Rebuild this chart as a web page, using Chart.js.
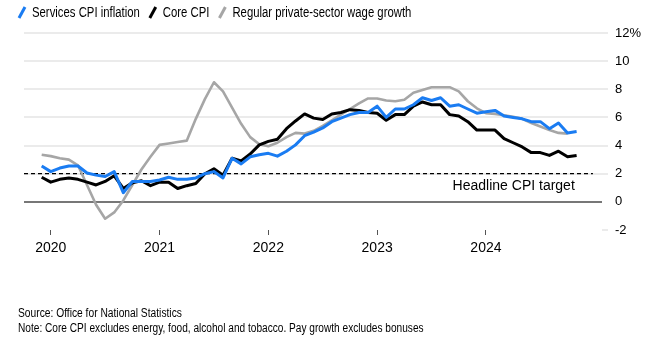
<!DOCTYPE html>
<html>
<head>
<meta charset="utf-8">
<script src="https://cdn.jsdelivr.net/npm/chart.js@4.4.1/dist/chart.umd.min.js"></script>
<style>
  html, body { margin: 0; padding: 0; background: #fff; }
</style>
</head>
<body>
<canvas id="myChart" width="669" height="348"></canvas>
<script>
// monthly readings, Nov 2019 .. Oct 2024 (pay growth stops at Sep 2024)
// x = months after Jan 2020, each month plotted at its month end
const firstMonth = -1;
const services = [
  2.55, 2.15,
  2.4, 2.55, 2.55, 2.05, 1.9, 1.8, 2.15, 0.65, 1.45, 1.45, 1.45, 1.55,
  1.75, 1.6, 1.6, 1.7, 2.0, 2.15, 1.7, 3.1, 2.7, 3.2, 3.35, 3.45,
  3.25, 3.6, 4.05, 4.7, 4.95, 5.25, 5.7, 5.95, 6.2, 6.35, 6.35, 6.8,
  6.0, 6.6, 6.6, 6.9, 7.4, 7.2, 7.4, 6.8, 6.9, 6.6, 6.3, 6.4,
  6.5, 6.1, 6.0, 5.9, 5.7, 5.7, 5.2, 5.6, 4.9, 5.0
];
const core = [
  1.75, 1.4,
  1.6, 1.7, 1.6, 1.4, 1.2, 1.45, 1.85, 0.95, 1.35, 1.5, 1.15, 1.4,
  1.4, 0.95, 1.15, 1.3, 2.0, 2.35, 1.9, 3.1, 2.9, 3.4, 4.05, 4.3,
  4.45, 5.2, 5.75, 6.25, 5.95, 5.85, 6.25, 6.35, 6.55, 6.5, 6.35, 6.3,
  5.8, 6.2, 6.2, 6.8, 7.1, 6.9, 6.9, 6.2, 6.1, 5.7, 5.1, 5.1,
  5.1, 4.5, 4.2, 3.9, 3.5, 3.5, 3.3, 3.6, 3.2, 3.3
];
const wages = [
  3.35, 3.25,
  3.1, 3.0, 2.6, 1.2, -0.2, -1.2, -0.75, 0.1, 1.2, 2.3, 3.2, 4.05,
  4.15, 4.25, 4.35, 5.9, 7.3, 8.5, 7.85, 6.7, 5.55, 4.6, 4.1, 3.95,
  4.2, 4.6, 4.9, 4.85, 5.05, 5.4, 5.8, 6.2, 6.6, 7.0, 7.35, 7.35,
  7.2, 7.15, 7.25, 7.75, 7.95, 8.15, 8.15, 8.15, 7.85, 7.15, 6.65, 6.3,
  6.25, 6.15, 6.05, 5.9, 5.6, 5.35, 5.1, 4.9, 4.85
];
const yearTicks = [0, 12, 24, 36, 48];
const yearLabels = ["2020", "2021", "2022", "2023", "2024"];
const targetRate = 2;
const targetSpan = [-2.95, 59.8];
const seriesNames = ["Services CPI inflation", "Core CPI", "Regular private-sector wage growth"];
const seriesColors = ["#1a7cf2", "#000000", "#a6a6a6"];
const notes = [
  "Source: Office for National Statistics",
  "Note: Core CPI excludes energy, food, alcohol and tobacco. Pay growth excludes bonuses"
];

const REGULAR = '"Liberation Sans", Arial, sans-serif';
const SQUEEZE = 0.82; // no narrow face installed, so squeeze the regular one

const toPoints = (arr) => arr.map((v, i) => ({ x: firstMonth + i, y: v }));

const line = (label, data, color, width) => ({
  label,
  data: toPoints(data),
  borderColor: color,
  borderWidth: width,
  pointRadius: 0,
  tension: 0,
  borderJoinStyle: "round",
  fill: false,
});

const narrowText = (ctx, text, x, y, squeeze = SQUEEZE) => {
  ctx.save();
  ctx.translate(x, y);
  ctx.scale(squeeze, 1);
  ctx.fillText(text, 0, 0);
  ctx.restore();
  return ctx.measureText(text).width * squeeze;
};

// legend, target caption and footnotes
const extras = {
  id: "extras",
  afterDraw(chart) {
    const ctx = chart.ctx;
    const { x, y } = chart.scales;
    ctx.save();
    ctx.textBaseline = "middle";
    ctx.fillStyle = "#000";
    ctx.font = `14px ${REGULAR}`;
    let lx = 18;
    seriesNames.forEach((name, i) => {
      ctx.strokeStyle = seriesColors[i];
      ctx.lineWidth = 3;
      ctx.beginPath();
      ctx.moveTo(lx + 1, 18);
      ctx.lineTo(lx + 7, 7);
      ctx.stroke();
      const w = narrowText(ctx, name, lx + 14, 13, 0.81);
      lx += 14 + w + 9;
    });

    ctx.font = `14px ${REGULAR}`;
    ctx.textAlign = "right";
    ctx.fillText("Headline CPI target", x.getPixelForValue(57.8), y.getPixelForValue(targetRate) + 12);

    ctx.textAlign = "left";
    ctx.font = `12.5px ${REGULAR}`;
    narrowText(ctx, notes[0], 18, 314);
    narrowText(ctx, notes[1], 18, 329, 0.81);
    ctx.restore();
  },
};

const ctx = document.getElementById("myChart").getContext("2d");
const myChart = new Chart(ctx, {
  type: "line",
  data: {
    datasets: [
      line(seriesNames[0], services, seriesColors[0], 3),
      line(seriesNames[1], core, seriesColors[1], 3),
      line(seriesNames[2], wages, seriesColors[2], 2.6),
      {
        label: "target",
        data: targetSpan.map((v) => ({ x: v, y: targetRate })),
        borderColor: "#000",
        borderWidth: 1.3,
        borderDash: [4, 3],
        pointRadius: 0,
      },
    ],
  },
  options: {
    responsive: false,
    animation: false,
    devicePixelRatio: 1,
    layout: { padding: { top: 33, left: 24, right: 0, bottom: 0 } },
    plugins: {
      legend: { display: false },
      tooltip: { enabled: false },
    },
    scales: {
      x: {
        type: "linear",
        min: -2.95,
        max: 60.8,
        afterBuildTicks: (s) => {
          s.ticks = yearTicks.map((v) => ({ value: v }));
        },
        afterFit: (s) => {
          s.height = 118;
        },
        ticks: {
          autoSkip: false,
          maxRotation: 0,
          padding: 5,
          color: "#000",
          font: { family: REGULAR, size: 14 },
          callback: (v, i) => yearLabels[i],
        },
        grid: { drawOnChartArea: false, drawTicks: true, tickLength: 5, tickColor: "#555", lineWidth: 1 },
        border: { display: false },
      },
      y: {
        position: "right",
        min: -2,
        max: 12,
        afterFit: (s) => {
          s.width = 67;
        },
        ticks: {
          stepSize: 2,
          padding: 7,
          color: "#000",
          font: { family: REGULAR, size: 13 },
          callback: (v) => (v === 12 ? "12%" : v),
        },
        grid: {
          color: (c) => (c.tick.value === 0 ? "#777" : c.tick.value === -2 ? "rgba(0,0,0,0)" : "#ebebeb"),
          tickColor: (c) => (c.tick.value === 0 ? "rgba(0,0,0,0)" : "#ebebeb"),
          lineWidth: 2,
          tickLength: 6,
        },
        border: { display: false },
      },
    },
  },
  plugins: [extras],
});
</script>
</body>
</html>
